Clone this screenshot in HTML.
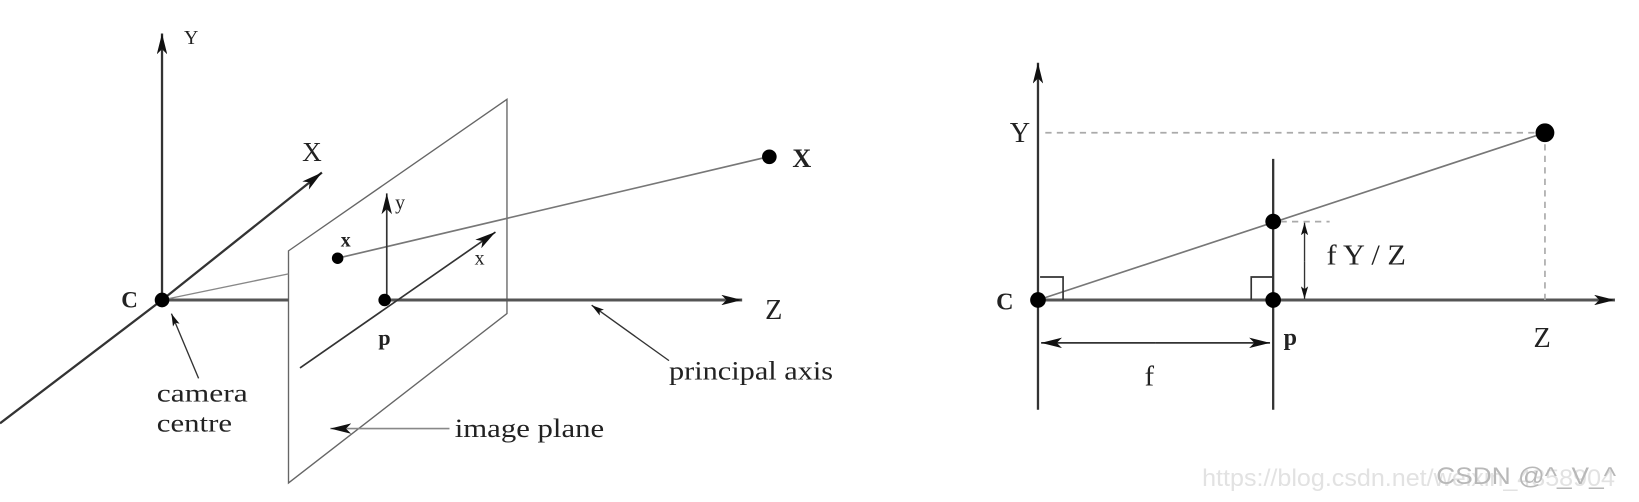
<!DOCTYPE html>
<html><head><meta charset="utf-8"><style>
html,body{margin:0;padding:0;background:#fff;}
svg{display:block;}
text{font-family:"Liberation Serif",serif;fill:#222;}
</style></head><body>
<svg width="1639" height="502" viewBox="0 0 1639 502">
<defs>
<marker id="ah" viewBox="0 0 20 10" refX="20" refY="5" markerWidth="20" markerHeight="10" markerUnits="userSpaceOnUse" orient="auto"><path d="M0,0 L20,5 L0,10 L5,5 Z" fill="#111"/></marker>
<marker id="ahs" viewBox="0 0 14 8" refX="14" refY="4" markerWidth="12" markerHeight="8" markerUnits="userSpaceOnUse" orient="auto"><path d="M0,0 L14,4 L0,8 L3,4 Z" fill="#111"/></marker>
</defs>
<g transform="scale(1.0453)">
<g stroke="#333" fill="none">
<line x1="155" y1="287" x2="155" y2="32" stroke-width="2.2" marker-end="url(#ah)"/>
<line x1="0" y1="405" x2="155" y2="287" stroke-width="2.2"/>
<line x1="155" y1="287" x2="308" y2="165" stroke-width="2.2" marker-end="url(#ah)"/>
<polygon points="276,240 485,95 485,300 276,462" stroke="#666" stroke-width="1.3" fill="#fff"/>
<line x1="155" y1="287" x2="276" y2="287" stroke-width="2.8" stroke="#555"/>
<line x1="368" y1="287" x2="710" y2="287" stroke-width="2.8" stroke="#555" marker-end="url(#ah)"/>
<line x1="155" y1="287" x2="276" y2="262" stroke="#888" stroke-width="1.3"/>
<line x1="323" y1="247" x2="735" y2="150" stroke="#777" stroke-width="1.6"/>
<line x1="287" y1="352" x2="474" y2="222" stroke-width="1.6" marker-end="url(#ah)"/>
<line x1="370" y1="287" x2="370" y2="185" stroke-width="1.6" marker-end="url(#ah)"/>
<line x1="190" y1="362" x2="164" y2="300" stroke-width="1.3" marker-end="url(#ahs)"/>
<line x1="640" y1="345" x2="566" y2="292" stroke-width="1.3" marker-end="url(#ahs)"/>
<line x1="430" y1="410" x2="316" y2="410" stroke="#888" stroke-width="1.6" marker-end="url(#ah)"/>
<circle cx="155" cy="287" r="7" fill="#000" stroke="none"/>
<circle cx="368" cy="287" r="6" fill="#000" stroke="none"/>
<circle cx="323" cy="247" r="5.5" fill="#000" stroke="none"/>
<circle cx="736" cy="150" r="7" fill="#000" stroke="none"/>
</g>
<g font-size="24">
<text x="176" y="42" font-size="19">Y</text>
<text x="289" y="154" font-size="26">X</text>
<text x="116" y="294" font-weight="bold" font-size="22">C</text>
<text x="326" y="236" font-weight="bold" font-size="19">x</text>
<text x="378" y="200" font-size="19">y</text>
<text x="454" y="253" font-size="19">x</text>
<text x="362" y="330" font-weight="bold" font-size="21">p</text>
<text x="732" y="305" font-size="27">Z</text>
<text x="758" y="160" font-weight="bold" font-size="25">X</text>
<text x="150" y="384" font-size="24" textLength="87" lengthAdjust="spacingAndGlyphs">camera</text>
<text x="150" y="413" font-size="24" textLength="72" lengthAdjust="spacingAndGlyphs">centre</text>
<text x="640" y="363" font-size="25" textLength="157" lengthAdjust="spacingAndGlyphs">principal axis</text>
<text x="435" y="418" font-size="25" textLength="143" lengthAdjust="spacingAndGlyphs">image plane</text>
</g>
<g stroke="#333" fill="none">
<line x1="993" y1="392" x2="993" y2="60" stroke-width="2.2" marker-end="url(#ah)"/>
<line x1="993" y1="287" x2="1545" y2="287" stroke-width="2.8" stroke="#555" marker-end="url(#ah)"/>
<line x1="1218" y1="152" x2="1218" y2="392" stroke-width="2.2"/>
<line x1="1000" y1="127" x2="1478" y2="127" stroke="#aaa" stroke-width="1.6" stroke-dasharray="6,5"/>
<line x1="1478" y1="127" x2="1478" y2="287" stroke="#aaa" stroke-width="1.6" stroke-dasharray="6,5"/>
<line x1="1225" y1="212" x2="1272" y2="212" stroke="#aaa" stroke-width="1.6" stroke-dasharray="6,5"/>
<line x1="993" y1="287" x2="1478" y2="127" stroke="#777" stroke-width="1.6"/>
<line x1="1248" y1="250" x2="1248" y2="213" stroke-width="1.3" marker-end="url(#ahs)"/>
<line x1="1248" y1="250" x2="1248" y2="286" stroke-width="1.3" marker-end="url(#ahs)"/>
<line x1="1105" y1="328" x2="996" y2="328" stroke-width="1.6" marker-end="url(#ah)"/>
<line x1="1105" y1="328" x2="1215" y2="328" stroke-width="1.6" marker-end="url(#ah)"/>
<polyline points="995,265 1017,265 1017,287" stroke-width="1.6"/>
<polyline points="1197,287 1197,265 1218,265" stroke-width="1.6"/>
<circle cx="993" cy="287" r="7.5" fill="#000" stroke="none"/>
<circle cx="1218" cy="287" r="7.5" fill="#000" stroke="none"/>
<circle cx="1218" cy="212" r="7.5" fill="#000" stroke="none"/>
<circle cx="1478" cy="127" r="9" fill="#000" stroke="none"/>
</g>
<g font-size="24">
<text x="966" y="136" font-size="27">Y</text>
<text x="953" y="296" font-weight="bold" font-size="23">C</text>
<text x="1228" y="330" font-weight="bold" font-size="23">p</text>
<text x="1467" y="332" font-size="27">Z</text>
<text x="1095" y="369" font-size="27">f</text>
<text x="1269" y="253" font-size="27" textLength="76" lengthAdjust="spacingAndGlyphs">f Y / Z</text>
</g>
<g>
<text x="1150" y="465" font-size="23" textLength="395" lengthAdjust="spacingAndGlyphs" style="font-family:'Liberation Sans',sans-serif;fill:#e2e2e2">https://blog.csdn.net/weixin_4358904</text>
<text x="1374" y="463" font-size="23" textLength="172" lengthAdjust="spacingAndGlyphs" style="font-family:'Liberation Sans',sans-serif;fill:#b8b8b8">CSDN @^_V_^</text>
</g>
</g>
</svg>
</body></html>
